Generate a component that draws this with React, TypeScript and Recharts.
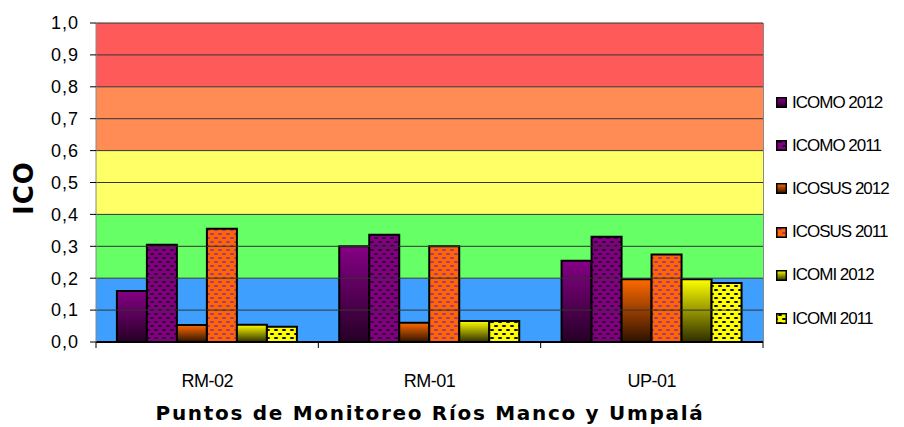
import {
  Bar,
  BarChart,
  ReferenceArea,
  ReferenceLine,
  XAxis,
  YAxis,
} from 'recharts'

const categories = ['RM-02', 'RM-01', 'UP-01']

const icomo2012 = [0.16, 0.3, 0.255]
const icomo2011 = [0.305, 0.336, 0.33]
const icosus2012 = [0.053, 0.06, 0.197]
const icosus2011 = [0.355, 0.3, 0.274]
const icomi2012 = [0.054, 0.066, 0.197]
const icomi2011 = [0.048, 0.066, 0.185]

const yTicks = [0, 0.1, 0.2, 0.3, 0.4, 0.5, 0.6, 0.7, 0.8, 0.9, 1]

// rangos de calidad (fondo)
const bandFrom = [0, 0.2, 0.4, 0.6, 0.8]
const bandTo = [0.2, 0.4, 0.6, 0.8, 1]
const bandColors = ['#3f9fff', '#66ff66', '#ffff66', '#ff8c55', '#ff5a5a']

const seriesNames = [
  'ICOMO 2012',
  'ICOMO 2011',
  'ICOSUS 2012',
  'ICOSUS 2011',
  'ICOMI 2012',
  'ICOMI 2011',
]
const seriesKeys = ['icomo12', 'icomo11', 'icosus12', 'icosus11', 'icomi12', 'icomi11']
const seriesFills = [
  'url(#gPurple)',
  'url(#pPurple)',
  'url(#gOrange)',
  'url(#pOrange)',
  'url(#gYellow)',
  'url(#pYellow)',
]

const data = categories.map((name, i) => ({
  name,
  icomo12: icomo2012[i],
  icomo11: icomo2011[i],
  icosus12: icosus2012[i],
  icosus11: icosus2011[i],
  icomi12: icomi2012[i],
  icomi11: icomi2011[i],
}))

const W = 904
const H = 427
const M = { top: 23, right: 141, left: 36, bottom: 40 }
const Y_W = 60
const plotW = W - M.left - Y_W - M.right
const halfBand = plotW / categories.length / 2

const fmt = (v: number) => v.toFixed(1).replace('.', ',')

function CatTick(props: any) {
  const { x, y, payload, index } = props
  const last = index === categories.length - 1
  return (
    <g>
      <line x1={x - halfBand} y1={y} x2={x - halfBand} y2={y + 6} stroke="#000" />
      {last && <line x1={x + halfBand} y1={y} x2={x + halfBand} y2={y + 6} stroke="#000" />}
      <text
        x={x}
        y={y + 45}
        textAnchor="middle"
        fontFamily="Liberation Sans, Arial, sans-serif"
        fontSize={18}
        letterSpacing={-0.5}
        fill="#000"
      >
        {payload.value}
      </text>
    </g>
  )
}

function Dots({ id, bg, dot }: { id: string; bg: string; dot: string }) {
  return (
    <pattern id={id} width={8} height={8} patternUnits="userSpaceOnUse">
      <rect width={8} height={8} fill={bg} />
      <ellipse cx={4} cy={2} rx={2.2} ry={1.1} fill={dot} />
      <ellipse cx={0} cy={6} rx={2.2} ry={1.1} fill={dot} />
      <ellipse cx={8} cy={6} rx={2.2} ry={1.1} fill={dot} />
    </pattern>
  )
}

function Grad({ id, top, bottom }: { id: string; top: string; bottom: string }) {
  return (
    <linearGradient id={id} x1="0" y1="0" x2="0" y2="1">
      <stop offset="0%" stopColor={top} />
      <stop offset="100%" stopColor={bottom} />
    </linearGradient>
  )
}

export default function App() {
  return (
    <div style={{ position: 'absolute', left: 0, top: 0, width: W, height: H, background: '#fff' }}>
      <BarChart
        width={W}
        height={H}
        data={data}
        margin={M}
        barCategoryGap="9.4%"
        barGap={0}
      >
        <defs>
          <Grad id="gPurple" top="#850085" bottom="#260026" />
          <Grad id="gOrange" top="#ff6a00" bottom="#2e1200" />
          <Grad id="gYellow" top="#ffff00" bottom="#2e2e00" />
          <Dots id="pPurple" bg="#800080" dot="#2a002a" />
          <Dots id="pOrange" bg="#ff6600" dot="#993399" />
          <Dots id="pYellow" bg="#ffff00" dot="#000000" />
        </defs>
        {bandColors.map((c, i) => (
          <ReferenceArea
            key={c}
            y1={bandFrom[i]}
            y2={bandTo[i]}
            fill={c}
            fillOpacity={1}
            stroke="none"
          />
        ))}
        {yTicks.map((t) => (
          <ReferenceLine key={t} y={t} stroke="#333" strokeWidth={1} />
        ))}
        <XAxis
          dataKey="name"
          axisLine={{ stroke: '#000', strokeWidth: 2 }}
          tickLine={false}
          tickSize={0}
          tickMargin={0}
          tick={<CatTick />}
          height={45}
          interval={0}
        />
        <YAxis
          width={Y_W}
          domain={[0, 1]}
          ticks={yTicks}
          tickFormatter={fmt}
          axisLine={{ stroke: '#888' }}
          tickLine={{ stroke: '#000' }}
          tickSize={6}
          tickMargin={11}
          tick={{ fill: '#000', fontSize: 18, fontFamily: 'Liberation Sans, Arial, sans-serif', letterSpacing: 1 }}
          interval={0}
        />
        {seriesKeys.map((k, i) => (
          <Bar
            key={k}
            dataKey={k}
            name={seriesNames[i]}
            fill={seriesFills[i]}
            stroke="#000"
            strokeWidth={2}
            isAnimationActive={false}
          />
        ))}
      </BarChart>

      <div
        style={{
          position: 'absolute',
          left: 763,
          top: 23,
          width: 1,
          height: 319,
          background: '#888',
        }}
      />

      <div
        style={{
          position: 'absolute',
          left: 24,
          top: 188,
          transform: 'translate(-50%, -50%) rotate(-90deg)',
          fontFamily: 'DejaVu Sans, Verdana, sans-serif',
          fontWeight: 'bold',
          fontSize: 26,
          letterSpacing: 1,
          color: '#000',
          whiteSpace: 'nowrap',
        }}
      >
        ICO
      </div>

      <div
        style={{
          position: 'absolute',
          left: 0,
          width: 860,
          top: 401,
          textAlign: 'center',
          fontFamily: 'DejaVu Sans, Verdana, sans-serif',
          fontWeight: 'bold',
          fontSize: 20,
          letterSpacing: 1.7,
          color: '#000',
          whiteSpace: 'nowrap',
        }}
      >
        Puntos de Monitoreo Ríos Manco y Umpalá
      </div>

      <div style={{ position: 'absolute', left: 776, top: 81 }}>
        {seriesNames.map((n, i) => (
          <div key={n} style={{ display: 'flex', alignItems: 'center', height: 43.2 }}>
            <svg width={11} height={11} style={{ marginRight: 5 }}>
              <rect x={0.75} y={0.75} width={9.5} height={9.5} fill={seriesFills[i]} stroke="#000" strokeWidth={1.5} />
            </svg>
            <span
              style={{
                fontFamily: 'Liberation Sans, Arial, sans-serif',
                fontSize: 17,
                letterSpacing: -1,
                color: '#000',
                whiteSpace: 'nowrap',
              }}
            >
              {n}
            </span>
          </div>
        ))}
      </div>
    </div>
  )
}
